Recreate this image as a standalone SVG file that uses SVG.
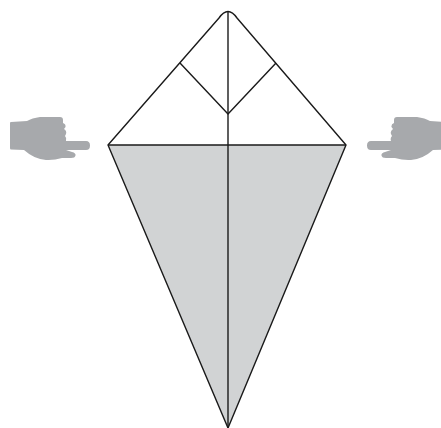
<svg xmlns="http://www.w3.org/2000/svg" width="441" height="428" viewBox="0 0 441 428">
<style>
.fold{fill:none;stroke:#1a1a1a;stroke-width:1.4;stroke-linejoin:round}
.hand{fill:#a7a9ac}
</style>
<defs>
<path id="handShape" d="M11 122 L27 121 Q32 118 40 117 L60 117 Q63 117 63 120 L63 123 Q66 124 65.500 127 L64 129 Q67 131 66 134 L65 136 Q67 138 66 141 L86 141 Q90 141 90 145.500 Q90 150 86 150 L66 150 L72 152 Q76 153 75.500 155.500 Q75 158 71 158 L62 158 Q54 160.500 46 160 Q34 159 24 150 L11 149.500 Q10 149.500 10 148 L10 123 Q10 122 11 122 Z"/>
</defs>
<rect width="441" height="428" fill="#ffffff"/>
<g id="kite">
<path d="M108 145 L346 145 L228 428 Z" fill="#d1d3d4"/>
<path class="fold" d="M108 145 L219 18 Q228 5 237 18 L346 145 L228 428 Z"/>
</g>
<g id="connectors">
<path class="fold" d="M108 145 H346"/>
<path class="fold" d="M228 11 V428"/>
<path class="fold" d="M180 63 L228 114 L276 63"/>
</g>
<g id="hand-left"><use href="#handShape" class="hand"/></g>
<g id="hand-right"><use href="#handShape" class="hand" transform="translate(457 0) scale(-1 1)"/></g>
</svg>
